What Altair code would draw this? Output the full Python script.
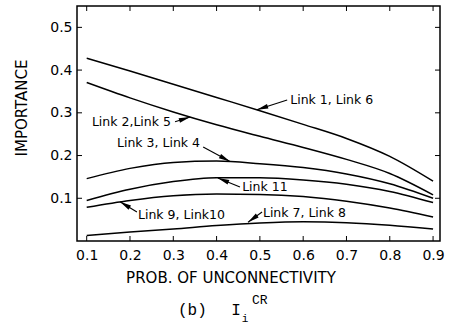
import math
import altair as alt
import pandas as pd

# ---- data ----
x_vals = [0.1, 0.2, 0.3, 0.4, 0.5, 0.6, 0.7, 0.8, 0.9]
link_1_6 = [0.428, 0.398, 0.367, 0.336, 0.305, 0.273, 0.240, 0.198, 0.140]
link_2_5 = [0.371, 0.335, 0.302, 0.272, 0.245, 0.219, 0.191, 0.158, 0.108]
link_3_4 = [0.146, 0.170, 0.184, 0.187, 0.181, 0.172, 0.157, 0.134, 0.100]
link_11 = [0.095, 0.121, 0.139, 0.148, 0.148, 0.143, 0.133, 0.116, 0.090]
link_9_10 = [0.079, 0.095, 0.106, 0.110, 0.109, 0.104, 0.093, 0.077, 0.056]
link_7_8 = [0.013, 0.021, 0.028, 0.036, 0.042, 0.045, 0.043, 0.037, 0.028]
series_names = ["Link 1, Link 6", "Link 2, Link 5", "Link 3, Link 4",
                "Link 11", "Link 9, Link 10", "Link 7, Link 8"]
series_values = [link_1_6, link_2_5, link_3_4, link_11, link_9_10, link_7_8]

# annotation labels (data coordinates)
label_texts = ["Link 1, Link 6", "Link 2,Link 5", "Link 3, Link 4",
               "Link 11", "Link 9, Link10", "Link 7, Link 8"]
label_x = [0.570, 0.112, 0.170, 0.459, 0.2185, 0.507]
label_y = [0.330, 0.278, 0.2295, 0.1265, 0.061, 0.0656]
# arrows: start near label, end touching curve
arrow_x1 = [0.563, 0.304, 0.369, 0.454, 0.216, 0.505]
arrow_y1 = [0.330, 0.279, 0.220, 0.1265, 0.068, 0.068]
arrow_x2 = [0.493, 0.339, 0.431, 0.403, 0.177, 0.4726]
arrow_y2 = [0.307, 0.290, 0.186, 0.1475, 0.092, 0.044]

x_ticks = [0.1, 0.2, 0.3, 0.4, 0.5, 0.6, 0.7, 0.8, 0.9]
y_ticks = [0.1, 0.2, 0.3, 0.4, 0.5]

W, H = 363, 235
XD = [0.0776, 0.916]
YD = [0.0, 0.55]
FONT = "DejaVu Sans"

rows = []
for name, vals in zip(series_names, series_values):
    for xv, yv in zip(x_vals, vals):
        rows.append({"series": name, "x": xv, "y": yv})
lines_df = pd.DataFrame(rows)

sx = W / (XD[1] - XD[0])
sy = H / (YD[1] - YD[0])
angles = []
for a, b, c, d in zip(arrow_x1, arrow_y1, arrow_x2, arrow_y2):
    dx = (c - a) * sx
    dy = -(d - b) * sy
    angles.append(math.degrees(math.atan2(dx, -dy)) % 360)
arrows_df = pd.DataFrame({"x": arrow_x1, "y": arrow_y1, "x2": arrow_x2,
                          "y2": arrow_y2, "angle": angles})
labels_df = pd.DataFrame({"x": label_x, "y": label_y, "text": label_texts})
xt_df = pd.DataFrame({"x": x_ticks})
yt_df = pd.DataFrame({"y": y_ticks})

xs = alt.Scale(domain=XD, nice=False, zero=False)
ys = alt.Scale(domain=YD, nice=False, zero=False)
xaxis = alt.Axis(values=x_ticks, format=".1f", tickSize=0, domain=False, grid=False,
                 title=None, labelFont=FONT, labelFontSize=14, labelColor="black",
                 labelPadding=7)
yaxis = alt.Axis(values=y_ticks, format=".1f", tickSize=0, domain=False, grid=False,
                 title=None, labelFont=FONT, labelFontSize=14, labelColor="black",
                 labelPadding=5)

lines = alt.Chart(lines_df).mark_line(interpolate="monotone", color="black",
                                      strokeWidth=1.5).encode(
    x=alt.X("x:Q", scale=xs, axis=xaxis),
    y=alt.Y("y:Q", scale=ys, axis=yaxis),
    detail="series:N",
)

arrow_lines = alt.Chart(arrows_df).mark_rule(color="black", strokeWidth=1.1).encode(
    x="x:Q", y="y:Q", x2="x2:Q", y2="y2:Q")

heads = alt.Chart(arrows_df).mark_point(
    shape="M0,0L-0.42,2L0.42,2Z", filled=True, color="black", opacity=1,
    size=130).encode(
    x="x2:Q", y="y2:Q", angle=alt.Angle("angle:Q", scale=None))

labels = alt.Chart(labels_df).mark_text(align="left", baseline="middle",
                                        font=FONT, fontSize=12.5, color="black").encode(
    x="x:Q", y="y:Q", text="text:N")

tick_bottom = alt.Chart(xt_df).mark_rule(color="black", strokeWidth=1).encode(
    x="x:Q", y=alt.value(H), y2=alt.value(H - 5))
tick_top = alt.Chart(xt_df).mark_rule(color="black", strokeWidth=1).encode(
    x="x:Q", y=alt.value(0), y2=alt.value(5))
tick_left = alt.Chart(yt_df).mark_rule(color="black", strokeWidth=1).encode(
    y="y:Q", x=alt.value(0), x2=alt.value(5))
tick_right = alt.Chart(yt_df).mark_rule(color="black", strokeWidth=1).encode(
    y="y:Q", x=alt.value(W), x2=alt.value(W - 5))

def txt(s, x, y, size, font=FONT, angle=0, align="center"):
    return alt.Chart(pd.DataFrame({"t": [s]})).mark_text(
        font=font, fontSize=size, color="black", angle=angle, align=align,
        baseline="middle").encode(x=alt.value(x), y=alt.value(y), text="t:N")

ytitle = txt("IMPORTANCE", -55, 102, 15, angle=270)
xtitle = txt("PROB. OF UNCONNECTIVITY", 154, 272, 15)
cap_b = txt("(b)", 101, 304, 16, font="Liberation Mono", align="left")
cap_I = txt("I", 159, 304, 16, font="Liberation Mono")
cap_i = txt("i", 168, 313, 11, font="Liberation Mono")
cap_cr = txt("CR", 175, 294, 13, font="Liberation Mono", align="left")

chart = alt.layer(
    lines, arrow_lines, heads, labels,
    tick_bottom, tick_top, tick_left, tick_right,
    ytitle, xtitle, cap_b, cap_I, cap_i, cap_cr,
).properties(
    width=W, height=H,
    autosize=alt.AutoSizeParams(type="none"),
    padding={"left": 77, "top": 6, "right": 10, "bottom": 89},
    background="white",
).configure_view(stroke="black", strokeWidth=1.5)

chart.save("out.html", embed_options={"renderer": "svg", "actions": False})
